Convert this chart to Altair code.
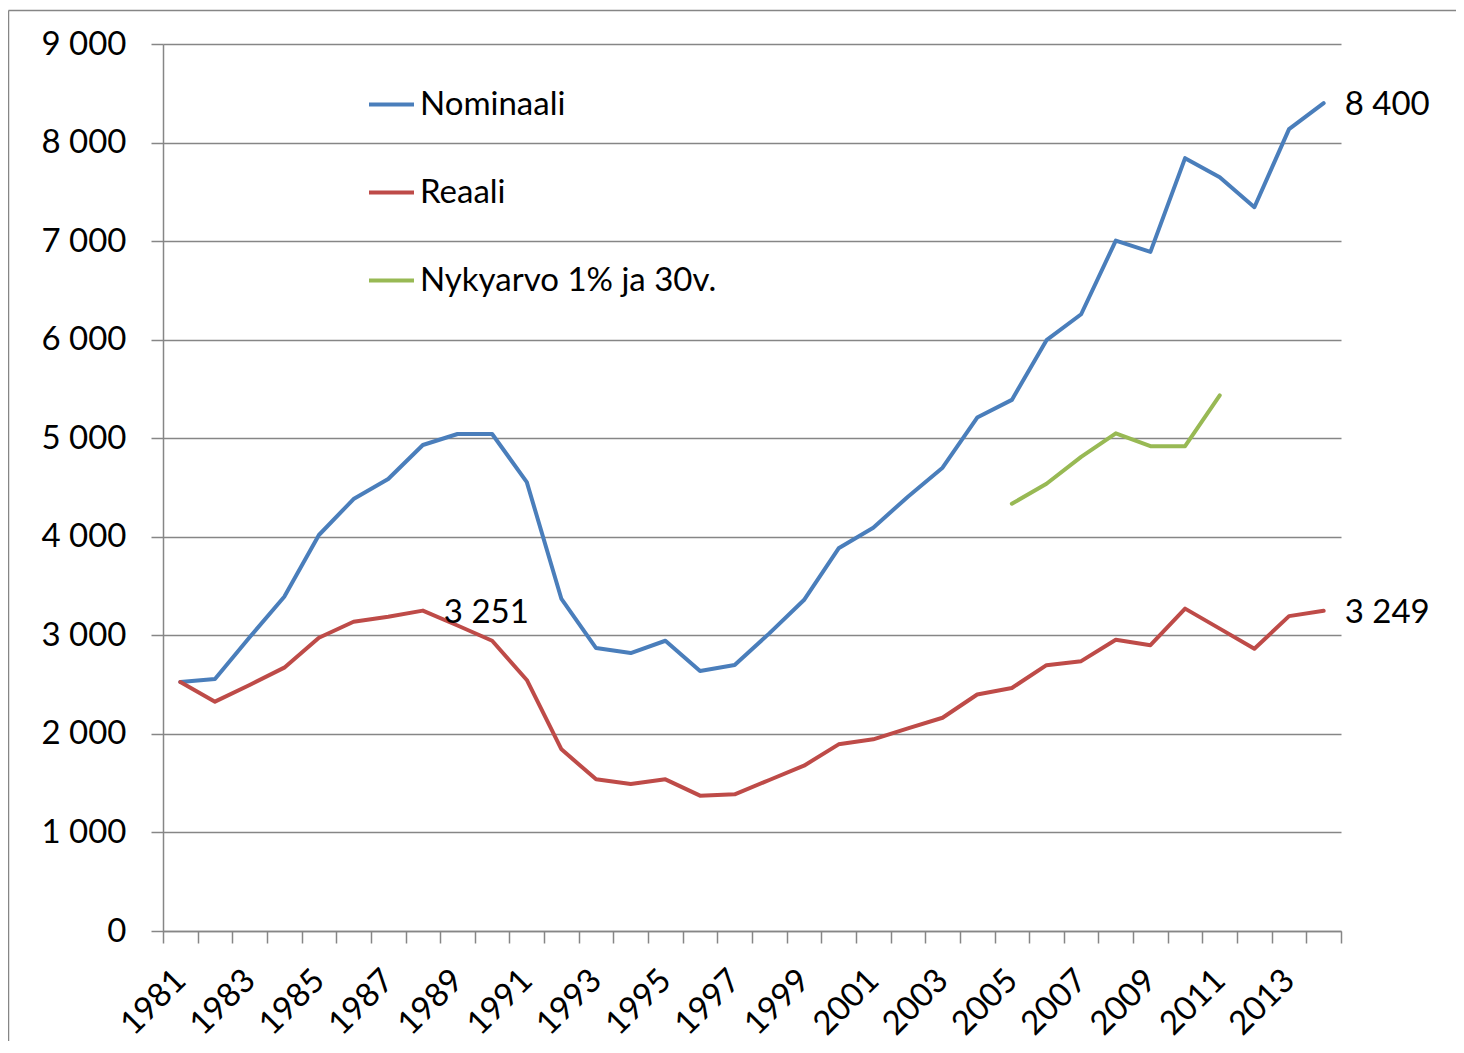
import altair as alt
import pandas as pd

years = list(range(1981, 2015))
nominaali = [2526, 2557, 2980, 3392, 4018, 4383, 4586, 4931, 5043, 5043,
             4555, 3369, 2871, 2820, 2945, 2638, 2699, 3020, 3358, 3883,
             4092, 4407, 4701, 5210, 5389, 5995, 6258, 7005, 6891, 7842,
             7647, 7344, 8136, 8400]
reaali = [2526, 2327, 2496, 2672, 2976, 3138, 3189, 3251, 3100, 2945,
          2547, 1843, 1539, 1491, 1539, 1373, 1387, 1532, 1677, 1894,
          1945, 2056, 2164, 2400, 2466, 2697, 2738, 2955, 2900, 3271,
          3068, 2864, 3195, 3249]
nyky_years = list(range(2005, 2012))
nykyarvo = [4335, 4538, 4810, 5050, 4919, 4919, 5434]

series_names = ["Nominaali", "Reaali", "Nykyarvo 1% ja 30v."]
series_colors = ["#4A7EBB", "#BE4B48", "#98B954"]

label_years = [1988, 2014, 2014]
label_values = [3251, 8400, 3249]
label_texts = ["3 251", "8 400", "3 249"]

rows = []
for y, v in zip(years, nominaali):
    rows.append({"year": y, "series": series_names[0], "value": v})
for y, v in zip(years, reaali):
    rows.append({"year": y, "series": series_names[1], "value": v})
for y, v in zip(nyky_years, nykyarvo):
    rows.append({"year": y, "series": series_names[2], "value": v})
df = pd.DataFrame(rows)
labels_df = pd.DataFrame({"year": label_years, "value": label_values, "text": label_texts})

FONT = "Lato"
FS = 33
GRAY = "#868686"

x_enc = alt.X(
    "year:O",
    scale=alt.Scale(type="band", paddingInner=0, paddingOuter=0, domain=years),
    bandPosition=0.5,
    axis=alt.Axis(
        title=None,
        tickBand="extent",
        labelExpr="datum.value % 2 == 1 ? datum.label : ''",
        labelAngle=-45,
        labelAlign="right",
        labelBaseline="middle",
        tickSize=12,
        labelPadding=32,
        labelFont=FONT,
        labelFontSize=FS,
        labelColor="black",
        domainColor=GRAY,
        tickColor=GRAY,
        domainWidth=1.5,
        tickWidth=1.5,
        grid=False,
    ),
)
y_enc = alt.Y(
    "value:Q",
    scale=alt.Scale(domain=[0, 9000], nice=False),
    axis=alt.Axis(
        title=None,
        values=list(range(0, 9001, 1000)),
        labelExpr="replace(format(datum.value, ','), ',', ' ')",
        tickSize=12,
        labelPadding=25,
        labelFont=FONT,
        labelFontSize=FS,
        labelColor="black",
        domainColor=GRAY,
        tickColor=GRAY,
        domainWidth=1.5,
        tickWidth=1.5,
        gridColor=GRAY,
        gridWidth=1.5,
    ),
)

lines = alt.Chart(df).mark_line(strokeWidth=4, strokeCap="round", strokeJoin="round").encode(
    x=x_enc,
    y=y_enc,
    color=alt.Color(
        "series:N",
        scale=alt.Scale(domain=series_names, range=series_colors),
        sort=series_names,
        legend=alt.Legend(
            title=None,
            orient="none",
            legendX=204,
            legendY=36,
            symbolType="stroke",
            symbolSize=2025,
            symbolStrokeWidth=4,
            labelFont=FONT,
            labelFontSize=FS,
            labelColor="black",
            labelOffset=4,
            labelLimit=0,
            rowPadding=46,
            padding=0,
        ),
    ),
)

texts = alt.Chart(labels_df).mark_text(
    align="left", baseline="middle", dx=21, dy=2, font=FONT, fontSize=FS, color="black"
).encode(
    x=alt.X("year:O", bandPosition=0.5),
    y="value:Q",
    text="text:N",
)

frame_df = pd.DataFrame({"a": [0]})
border_top = alt.Chart(frame_df).mark_rule(
    stroke=GRAY, strokeWidth=1.5, clip=False
).encode(
    x=alt.value(-154.5),
    x2=alt.value(1400),
    y=alt.value(-33.5),
)
border_left = alt.Chart(frame_df).mark_rule(
    stroke=GRAY, strokeWidth=1.5, clip=False
).encode(
    x=alt.value(-154.5),
    y=alt.value(-33.5),
    y2=alt.value(1100),
)

chart = alt.layer(border_top, border_left, lines, texts).properties(
    width=1178,
    height=887,
    padding={"left": 155, "top": 36, "right": 115, "bottom": 110},
    autosize=alt.AutoSizeParams(type="none"),
    background="white",
).configure_view(stroke=None)

chart.save("out.html", embed_options={"renderer": "svg", "actions": False})
